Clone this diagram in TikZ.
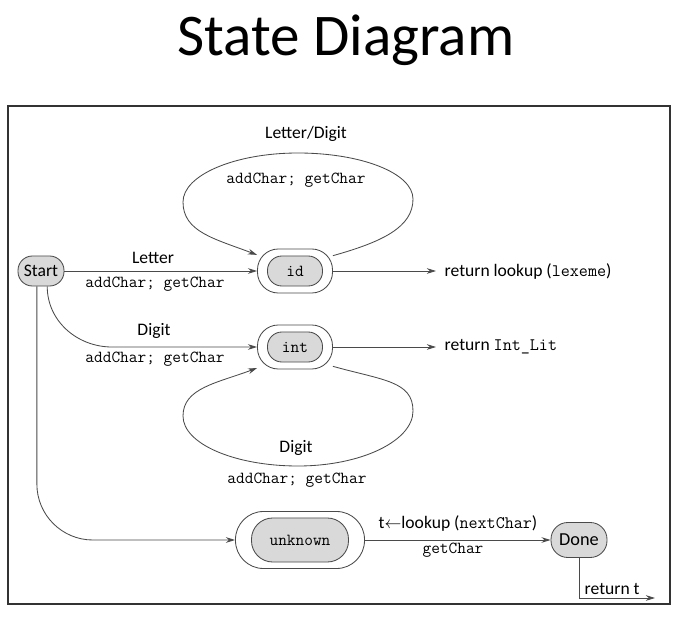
\documentclass[tikz,border=0pt]{standalone}
\usepackage{fontspec}
\setmainfont{Carlito}
\usepackage{tikz}
\usetikzlibrary{calc,arrows.meta}
\definecolor{line}{HTML}{4A4A4A}
\definecolor{shade}{HTML}{D9D9D9}
\newcommand{\lblfont}{\fontsize{12.5}{14}\selectfont}
\newcommand{\codefont}{\ttfamily\fontsize{12}{14}\selectfont}
\tikzset{
  ring/.style={draw=line, fill=white, line width=0.6pt, rounded corners=5.2mm, minimum width=18.75mm, minimum height=11mm, inner sep=0pt},
  st/.style={draw=line, fill=shade, line width=0.6pt, rounded corners=3.6mm, minimum width=13.75mm, minimum height=7.5mm, inner sep=0pt},
  arr/.style={draw=line, line width=0.6pt, -{Stealth[length=6.5pt,width=4pt]}},
  lab/.style={font=\lblfont, inner sep=1pt},
  code/.style={font=\codefont, inner sep=1pt}
}

\begin{document}
\begin{tikzpicture}[x=0.025cm,y=0.025cm]
  \useasboundingbox (0,0) rectangle (686,-623);
  \node[font=\fontsize{42}{48}\selectfont] (title) at (346,-40) {State Diagram};
  \draw[line width=0.8pt, draw=black!80] (8,-106) rectangle (670,-604);

  % states
  \node[st, font=\lblfont, minimum width=11.5mm] (start) at (41,-271) {Start};
  \node[ring] (idout) at (295,-271) {};
  \node[st, font=\codefont] (id) at (idout) {id};
  \node[ring] (intout) at (295,-347) {};
  \node[st, font=\codefont] (int) at (intout) {int};
  \node[ring, minimum width=32.25mm, minimum height=14.25mm, rounded corners=7mm] (unkout) at (300,-540) {};
  \node[st, font=\codefont, minimum width=24.25mm, minimum height=11mm, rounded corners=5.3mm] (unk) at (unkout) {unknown};
  \node[st, font=\fontsize{13}{15}\selectfont, minimum width=14mm, minimum height=8.75mm, rounded corners=4.2mm] (done) at (579,-540) {Done};

  \coordinate (lexend) at (436,-271);
  \coordinate (litend) at (436,-347);
  \coordinate (bendint) at (112,-347);
  \coordinate (retend) at (655,-598);
  \coordinate (idR) at (413,-199);
  \coordinate (idT) at (298,-153);
  \coordinate (idL) at (183,-202);
  \coordinate (intR) at (413,-411);
  \coordinate (intB) at (298,-466);
  \coordinate (intL) at (183,-416);

  % Start -> id
  \draw[arr] (start) -- (idout);
  \node[lab] (letter) at (153,-258) {Letter};
  \node[code] (actid) at (155,-284) {addChar; getChar};

  % id loop
  \draw[arr] (idout.22) .. controls +(50,14) and +(0,-28) .. (idR)
    .. controls +(0,26) and +(63,0) .. (idT)
    .. controls +(-63,0) and +(0,27) .. (idL)
    .. controls +(0,-30) and +(-42,16) .. (idout.157);
  \node[lab] (letdig) at (306,-134) {Letter/Digit};
  \node[code] (actloop) at (296,-180) {addChar; getChar};

  % Start -> int
  \draw[arr] (start.-68) to[out=-90,in=180] (bendint) -- (intout);
  \node[lab] (digit) at (154,-331) {Digit};
  \node[code] (actint) at (155,-359) {addChar; getChar};

  % int loop
  \draw[arr] (intout.-27) .. controls +(50,-14) and +(0,30) .. (intR)
    .. controls +(0,-30) and +(63,0) .. (intB)
    .. controls +(-63,0) and +(0,-28) .. (intL)
    .. controls +(0,28) and +(-40,-15) .. (intout.-151);
  \node[lab] (digloop) at (296,-448) {Digit};
  \node[code] (actdig) at (297,-480) {addChar; getChar};

  % returns
  \draw[arr] (idout) -- (lexend);
  \node[lab, anchor=west] (retlex) at (443,-271) {return lookup (\texttt{lexeme})};
  \draw[arr] (intout) -- (litend);
  \node[lab, anchor=west] (retlit) at (443,-347) {return \texttt{Int\_Lit}};

  % Start -> unknown
  \draw[arr, rounded corners=1.4cm] (start.-105) |- (unkout);
  \draw[arr] (unkout) -- (done);
  \node[lab] (look) at (458,-523) {t$\leftarrow$lookup (\texttt{nextChar})};
  \node[code] (actunk) at (453,-550) {getChar};
  \draw[arr] (done.south) |- (retend);
  \node[lab, anchor=south west] (rett) at (583,-596) {return t};
\end{tikzpicture}
\end{document}
